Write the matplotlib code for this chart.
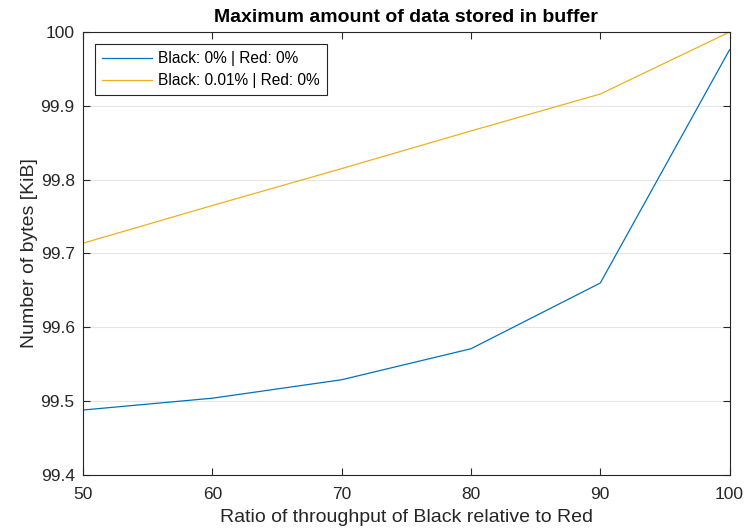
import matplotlib
matplotlib.use('Agg')
import matplotlib.pyplot as plt

plt.rcParams['font.family'] = ['Liberation Sans', 'DejaVu Sans']

#Data
ratio = [50, 60, 70, 80, 90, 100]
buf_clean = [99.488, 99.504, 99.529, 99.571, 99.660, 99.976]
buf_err = [99.714, 99.765, 99.815, 99.866, 99.916, 100.0]
labels = ['Black: 0% | Red: 0%', 'Black: 0.01% | Red: 0%']

fig = plt.figure(figsize=(7.46, 5.30), dpi=100)
ax = fig.add_axes([0.1113, 0.1038, 0.978 - 0.1113, 0.9396 - 0.1038])

ax.plot(ratio, buf_clean, color='#0072BD', lw=0.9, label=labels[0])
ax.plot(ratio, buf_err, color='#EDB120', lw=0.9, label=labels[1])

ax.set_xlim(50, 100)
ax.set_ylim(99.4, 100)
ax.set_xticks([50, 60, 70, 80, 90, 100])
ax.set_yticks([99.4, 99.5, 99.6, 99.7, 99.8, 99.9, 100])
ax.set_yticklabels(['99.4', '99.5', '99.6', '99.7', '99.8', '99.9', '100'])

ax.grid(axis='y', color='#e6e6e6', lw=0.8)
ax.set_axisbelow(True)
for s in ax.spines.values():
    s.set_color('#262626')
    s.set_linewidth(0.8)
ax.tick_params(direction='in', top=True, right=True, length=5, width=0.8,
               colors='#262626', labelsize=12.5, labelcolor='#262626')
ax.tick_params(axis='x', pad=9)
ax.tick_params(axis='y', pad=6)

ax.set_title('Maximum amount of data stored in buffer', fontsize=14, fontweight='bold', pad=7)
ax.set_xlabel('Ratio of throughput of Black relative to Red', fontsize=14, color='#262626', labelpad=5)
ax.set_ylabel('Number of bytes [KiB]', fontsize=14, color='#262626', labelpad=1.5)

leg = ax.legend(loc='upper left', fontsize=11.2, fancybox=False, framealpha=1,
                edgecolor='#262626', borderaxespad=0.8, handlelength=3.2,
                labelspacing=0.45, borderpad=0.45, handletextpad=0.4)
leg.get_frame().set_linewidth(0.8)

fig.savefig('out.png', dpi=100)
